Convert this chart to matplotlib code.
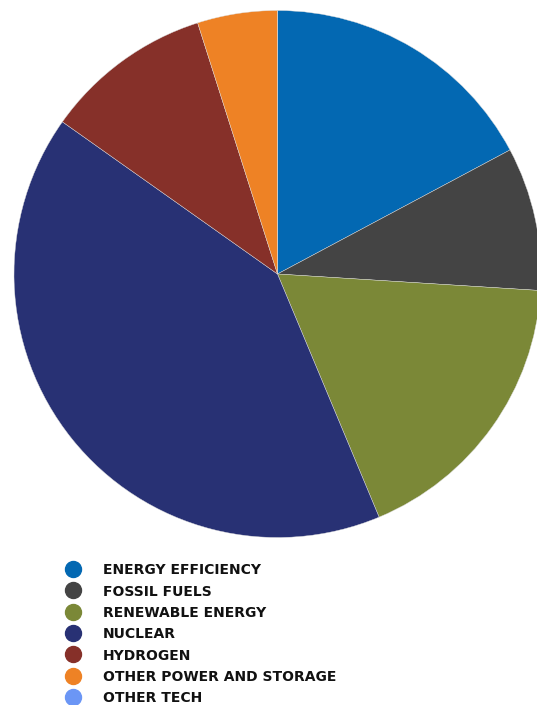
import matplotlib
matplotlib.use("Agg")
import matplotlib.pyplot as plt

# data (percent shares, clockwise from 12 o'clock)
categories = ["Energy Efficiency", "Fossil Fuels", "Renewable Energy", "Nuclear",
              "Hydrogen", "Other power and storage", "Other tech"]
shares = [17.2, 8.8, 17.7, 41.1, 10.3, 4.9, 0.0]
colors = ["#0368B2", "#444444", "#7B8837", "#283174", "#863029", "#EE8225", "#6B96F5"]

W, H = 537, 705
fig = plt.figure(figsize=(W / 100, H / 100), dpi=100)
fig.patch.set_facecolor("white")

# pie: center (277.5, 274) px, radius 263.5 px
cx, cy, r = 277.5, 274, 263.5
ax = fig.add_axes([(cx - r) / W, (H - cy - r) / H, 2 * r / W, 2 * r / H])
ax.pie(shares, colors=colors, startangle=90, counterclock=False, radius=1,
       wedgeprops=dict(linewidth=0.3, edgecolor="#dddddd"))
ax.set_xlim(-1, 1)
ax.set_ylim(-1, 1)
ax.set_aspect("equal")
ax.axis("off")

# legend in pixel coordinates
leg = fig.add_axes([0, 0, 1, 1])
leg.set_xlim(0, W)
leg.set_ylim(H, 0)
leg.axis("off")
y0, step = 569, 21.3
for i, (name, col) in enumerate(zip(categories, colors)):
    y = y0 + i * step
    leg.plot([73], [y], marker="o", markersize=11.5, color=col, linestyle="none")
    leg.text(103, y + 5.5, name.upper(), fontsize=10, fontweight="bold",
             family="DejaVu Sans", color="#111111", va="baseline", ha="left")

fig.savefig("out.png", dpi=100)
